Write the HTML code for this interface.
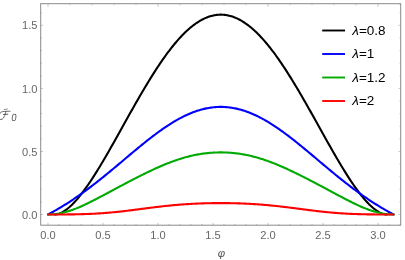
<!DOCTYPE html>
<html><head><meta charset="utf-8"><style>
html,body{margin:0;padding:0;background:#fff;}
svg{display:block;will-change:transform}
</style></head><body>
<svg width="405" height="260" viewBox="0 0 405 260">
<rect width="405" height="260" fill="#fff"/>
<rect x="40.7" y="3.7" width="360.00" height="221.50" fill="none" stroke="#8a8a8a" stroke-width="1.0"/>
<path d="M48.00,225.2 v-2.3 M59.00,225.2 v-1.3 M70.00,225.2 v-1.3 M81.00,225.2 v-1.3 M92.00,225.2 v-1.3 M103.00,225.2 v-2.3 M114.00,225.2 v-1.3 M125.00,225.2 v-1.3 M136.00,225.2 v-1.3 M147.00,225.2 v-1.3 M158.00,225.2 v-2.3 M169.00,225.2 v-1.3 M180.00,225.2 v-1.3 M191.00,225.2 v-1.3 M202.00,225.2 v-1.3 M213.00,225.2 v-2.3 M224.00,225.2 v-1.3 M235.00,225.2 v-1.3 M246.00,225.2 v-1.3 M257.00,225.2 v-1.3 M268.00,225.2 v-2.3 M279.00,225.2 v-1.3 M290.00,225.2 v-1.3 M301.00,225.2 v-1.3 M312.00,225.2 v-1.3 M323.00,225.2 v-2.3 M334.00,225.2 v-1.3 M345.00,225.2 v-1.3 M356.00,225.2 v-1.3 M367.00,225.2 v-1.3 M378.00,225.2 v-2.3 M389.00,225.2 v-1.3 M400.00,225.2 v-1.3 M40.7,214.50 h2.3 M40.7,201.89 h1.3 M40.7,189.28 h1.3 M40.7,176.67 h1.3 M40.7,164.06 h1.3 M40.7,151.45 h2.3 M40.7,138.84 h1.3 M40.7,126.23 h1.3 M40.7,113.62 h1.3 M40.7,101.01 h1.3 M40.7,88.40 h2.3 M40.7,75.79 h1.3 M40.7,63.18 h1.3 M40.7,50.57 h1.3 M40.7,37.96 h1.3 M40.7,25.35 h2.3 M40.7,12.74 h1.3" stroke="#8a8a8a" stroke-width="0.5" fill="none"/>
<path d="M48.00,3.7 v3.2 M70.00,3.7 v1.5 M92.00,3.7 v1.5 M114.00,3.7 v1.5 M136.00,3.7 v1.5 M158.00,3.7 v3.2 M180.00,3.7 v1.5 M202.00,3.7 v1.5 M224.00,3.7 v1.5 M246.00,3.7 v1.5 M268.00,3.7 v3.2 M290.00,3.7 v1.5 M312.00,3.7 v1.5 M334.00,3.7 v1.5 M356.00,3.7 v1.5 M378.00,3.7 v3.2 M400.00,3.7 v1.5 M400.7,214.50 h-2.3 M400.7,201.89 h-1.3 M400.7,189.28 h-1.3 M400.7,176.67 h-1.3 M400.7,164.06 h-1.3 M400.7,151.45 h-2.3 M400.7,138.84 h-1.3 M400.7,126.23 h-1.3 M400.7,113.62 h-1.3 M400.7,101.01 h-1.3 M400.7,88.40 h-2.3 M400.7,75.79 h-1.3 M400.7,63.18 h-1.3 M400.7,50.57 h-1.3 M400.7,37.96 h-1.3 M400.7,25.35 h-2.3 M400.7,12.74 h-1.3" stroke="#8a8a8a" stroke-width="0.45" fill="none"/>
<path d="M54.82,214.50 L55.93,214.49 L57.04,214.33 L58.15,214.05 L59.26,213.68 L60.37,213.23 L61.48,212.71 L62.59,212.11 L63.70,211.45 L64.81,210.73 L65.92,209.95 L67.03,209.11 L68.14,208.21 L69.25,207.27 L70.36,206.27 L71.47,205.23 L72.58,204.14 L73.69,203.00 L74.80,201.82 L75.91,200.60 L77.02,199.33 L78.13,198.03 L79.24,196.69 L80.35,195.32 L81.46,193.91 L82.57,192.46 L83.68,190.98 L84.79,189.47 L85.90,187.93 L87.01,186.36 L88.12,184.77 L89.23,183.15 L90.34,181.50 L91.45,179.82 L92.57,178.12 L93.68,176.40 L94.79,174.66 L95.90,172.90 L97.01,171.12 L98.12,169.32 L99.23,167.50 L100.34,165.67 L101.45,163.82 L102.56,161.95 L103.67,160.07 L104.78,158.18 L105.89,156.27 L107.00,154.36 L108.11,152.43 L109.22,150.49 L110.33,148.55 L111.44,146.59 L112.55,144.63 L113.66,142.66 L114.77,140.69 L115.88,138.71 L116.99,136.73 L118.10,134.74 L119.21,132.75 L120.32,130.76 L121.43,128.77 L122.54,126.78 L123.65,124.78 L124.76,122.79 L125.87,120.80 L126.98,118.81 L128.09,116.82 L129.20,114.84 L130.31,112.86 L131.42,110.89 L132.53,108.92 L133.64,106.96 L134.75,105.00 L135.86,103.05 L136.97,101.11 L138.08,99.18 L139.19,97.25 L140.30,95.34 L141.41,93.43 L142.52,91.54 L143.63,89.66 L144.74,87.79 L145.85,85.93 L146.96,84.09 L148.07,82.26 L149.18,80.44 L150.29,78.64 L151.40,76.85 L152.51,75.08 L153.62,73.33 L154.73,71.59 L155.84,69.87 L156.95,68.17 L158.06,66.48 L159.17,64.82 L160.28,63.17 L161.39,61.55 L162.50,59.94 L163.61,58.36 L164.72,56.79 L165.84,55.25 L166.95,53.74 L168.06,52.24 L169.17,50.77 L170.28,49.32 L171.39,47.90 L172.50,46.50 L173.61,45.12 L174.72,43.77 L175.83,42.45 L176.94,41.15 L178.05,39.88 L179.16,38.64 L180.27,37.43 L181.38,36.24 L182.49,35.08 L183.60,33.95 L184.71,32.85 L185.82,31.78 L186.93,30.74 L188.04,29.72 L189.15,28.74 L190.26,27.79 L191.37,26.87 L192.48,25.98 L193.59,25.13 L194.70,24.30 L195.81,23.51 L196.92,22.75 L198.03,22.03 L199.14,21.33 L200.25,20.67 L201.36,20.04 L202.47,19.45 L203.58,18.89 L204.69,18.36 L205.80,17.87 L206.91,17.42 L208.02,16.99 L209.13,16.61 L210.24,16.25 L211.35,15.93 L212.46,15.65 L213.57,15.40 L214.68,15.19 L215.79,15.01 L216.90,14.87 L218.01,14.77 L219.12,14.69 L220.23,14.66 L221.34,14.66 L222.45,14.69 L223.56,14.77 L224.67,14.87 L225.78,15.01 L226.89,15.19 L228.00,15.40 L229.11,15.65 L230.22,15.93 L231.33,16.25 L232.44,16.61 L233.55,16.99 L234.66,17.42 L235.77,17.87 L236.88,18.36 L237.99,18.89 L239.11,19.45 L240.22,20.04 L241.33,20.67 L242.44,21.33 L243.55,22.03 L244.66,22.75 L245.77,23.51 L246.88,24.30 L247.99,25.13 L249.10,25.98 L250.21,26.87 L251.32,27.79 L252.43,28.74 L253.54,29.72 L254.65,30.74 L255.76,31.78 L256.87,32.85 L257.98,33.95 L259.09,35.08 L260.20,36.24 L261.31,37.43 L262.42,38.64 L263.53,39.88 L264.64,41.15 L265.75,42.45 L266.86,43.77 L267.97,45.12 L269.08,46.50 L270.19,47.90 L271.30,49.32 L272.41,50.77 L273.52,52.24 L274.63,53.74 L275.74,55.25 L276.85,56.79 L277.96,58.36 L279.07,59.94 L280.18,61.55 L281.29,63.17 L282.40,64.82 L283.51,66.48 L284.62,68.17 L285.73,69.87 L286.84,71.59 L287.95,73.33 L289.06,75.08 L290.17,76.85 L291.28,78.64 L292.39,80.44 L293.50,82.26 L294.61,84.09 L295.72,85.93 L296.83,87.79 L297.94,89.66 L299.05,91.54 L300.16,93.43 L301.27,95.34 L302.38,97.25 L303.49,99.18 L304.60,101.11 L305.71,103.05 L306.82,105.00 L307.93,106.96 L309.04,108.92 L310.15,110.89 L311.26,112.86 L312.38,114.84 L313.49,116.82 L314.60,118.81 L315.71,120.80 L316.82,122.79 L317.93,124.78 L319.04,126.78 L320.15,128.77 L321.26,130.76 L322.37,132.75 L323.48,134.74 L324.59,136.73 L325.70,138.71 L326.81,140.69 L327.92,142.66 L329.03,144.63 L330.14,146.59 L331.25,148.55 L332.36,150.49 L333.47,152.43 L334.58,154.36 L335.69,156.27 L336.80,158.18 L337.91,160.07 L339.02,161.95 L340.13,163.82 L341.24,165.67 L342.35,167.50 L343.46,169.32 L344.57,171.12 L345.68,172.90 L346.79,174.66 L347.90,176.40 L349.01,178.12 L350.12,179.82 L351.23,181.50 L352.34,183.15 L353.45,184.77 L354.56,186.36 L355.67,187.93 L356.78,189.47 L357.89,190.98 L359.00,192.46 L360.11,193.91 L361.22,195.32 L362.33,196.69 L363.44,198.03 L364.55,199.33 L365.66,200.60 L366.77,201.82 L367.88,203.00 L368.99,204.14 L370.10,205.23 L371.21,206.27 L372.32,207.27 L373.43,208.21 L374.54,209.11 L375.65,209.95 L376.76,210.73 L377.87,211.45 L378.98,212.11 L380.09,212.71 L381.20,213.23 L382.31,213.68 L383.42,214.05 L384.53,214.33 L385.65,214.49 L386.76,214.50" fill="none" stroke="#000000" stroke-width="2.1" stroke-linecap="round" stroke-linejoin="round"/>
<path d="M48.00,214.50 L49.16,213.89 L50.31,213.27 L51.47,212.64 L52.62,212.00 L53.78,211.36 L54.93,210.71 L56.09,210.05 L57.25,209.38 L58.40,208.71 L59.56,208.03 L60.71,207.34 L61.87,206.64 L63.03,205.94 L64.18,205.23 L65.34,204.51 L66.49,203.78 L67.65,203.04 L68.80,202.30 L69.96,201.55 L71.12,200.79 L72.27,200.03 L73.43,199.25 L74.58,198.47 L75.74,197.69 L76.89,196.89 L78.05,196.09 L79.21,195.28 L80.36,194.46 L81.52,193.64 L82.67,192.81 L83.83,191.97 L84.98,191.13 L86.14,190.28 L87.30,189.42 L88.45,188.56 L89.61,187.69 L90.76,186.81 L91.92,185.93 L93.08,185.04 L94.23,184.15 L95.39,183.25 L96.54,182.35 L97.70,181.44 L98.85,180.52 L100.01,179.60 L101.17,178.68 L102.32,177.75 L103.48,176.82 L104.63,175.88 L105.79,174.94 L106.94,173.99 L108.10,173.04 L109.26,172.09 L110.41,171.14 L111.57,170.18 L112.72,169.22 L113.88,168.25 L115.03,167.29 L116.19,166.32 L117.35,165.35 L118.50,164.38 L119.66,163.41 L120.81,162.44 L121.97,161.46 L123.13,160.49 L124.28,159.51 L125.44,158.54 L126.59,157.57 L127.75,156.59 L128.90,155.62 L130.06,154.65 L131.22,153.68 L132.37,152.71 L133.53,151.75 L134.68,150.79 L135.84,149.83 L136.99,148.87 L138.15,147.91 L139.31,146.96 L140.46,146.02 L141.62,145.08 L142.77,144.14 L143.93,143.21 L145.08,142.28 L146.24,141.36 L147.40,140.44 L148.55,139.53 L149.71,138.63 L150.86,137.73 L152.02,136.84 L153.18,135.96 L154.33,135.09 L155.49,134.22 L156.64,133.36 L157.80,132.51 L158.95,131.67 L160.11,130.84 L161.27,130.02 L162.42,129.21 L163.58,128.41 L164.73,127.62 L165.89,126.84 L167.04,126.07 L168.20,125.31 L169.36,124.57 L170.51,123.83 L171.67,123.11 L172.82,122.40 L173.98,121.71 L175.13,121.02 L176.29,120.35 L177.45,119.70 L178.60,119.05 L179.76,118.43 L180.91,117.81 L182.07,117.21 L183.23,116.63 L184.38,116.06 L185.54,115.51 L186.69,114.97 L187.85,114.45 L189.00,113.94 L190.16,113.45 L191.32,112.97 L192.47,112.52 L193.63,112.08 L194.78,111.65 L195.94,111.25 L197.09,110.86 L198.25,110.49 L199.41,110.13 L200.56,109.79 L201.72,109.48 L202.87,109.18 L204.03,108.89 L205.18,108.63 L206.34,108.38 L207.50,108.16 L208.65,107.95 L209.81,107.76 L210.96,107.59 L212.12,107.44 L213.28,107.30 L214.43,107.19 L215.59,107.09 L216.74,107.02 L217.90,106.96 L219.05,106.92 L220.21,106.90 L221.37,106.90 L222.52,106.92 L223.68,106.96 L224.83,107.02 L225.99,107.09 L227.14,107.19 L228.30,107.30 L229.46,107.44 L230.61,107.59 L231.77,107.76 L232.92,107.95 L234.08,108.16 L235.23,108.38 L236.39,108.63 L237.55,108.89 L238.70,109.18 L239.86,109.48 L241.01,109.79 L242.17,110.13 L243.33,110.49 L244.48,110.86 L245.64,111.25 L246.79,111.65 L247.95,112.08 L249.10,112.52 L250.26,112.97 L251.42,113.45 L252.57,113.94 L253.73,114.45 L254.88,114.97 L256.04,115.51 L257.19,116.06 L258.35,116.63 L259.51,117.21 L260.66,117.81 L261.82,118.43 L262.97,119.05 L264.13,119.70 L265.28,120.35 L266.44,121.02 L267.60,121.71 L268.75,122.40 L269.91,123.11 L271.06,123.83 L272.22,124.57 L273.38,125.31 L274.53,126.07 L275.69,126.84 L276.84,127.62 L278.00,128.41 L279.15,129.21 L280.31,130.02 L281.47,130.84 L282.62,131.67 L283.78,132.51 L284.93,133.36 L286.09,134.22 L287.24,135.09 L288.40,135.96 L289.56,136.84 L290.71,137.73 L291.87,138.63 L293.02,139.53 L294.18,140.44 L295.33,141.36 L296.49,142.28 L297.65,143.21 L298.80,144.14 L299.96,145.08 L301.11,146.02 L302.27,146.96 L303.43,147.91 L304.58,148.87 L305.74,149.83 L306.89,150.79 L308.05,151.75 L309.20,152.71 L310.36,153.68 L311.52,154.65 L312.67,155.62 L313.83,156.59 L314.98,157.57 L316.14,158.54 L317.29,159.51 L318.45,160.49 L319.61,161.46 L320.76,162.44 L321.92,163.41 L323.07,164.38 L324.23,165.35 L325.38,166.32 L326.54,167.29 L327.70,168.25 L328.85,169.22 L330.01,170.18 L331.16,171.14 L332.32,172.09 L333.48,173.04 L334.63,173.99 L335.79,174.94 L336.94,175.88 L338.10,176.82 L339.25,177.75 L340.41,178.68 L341.57,179.60 L342.72,180.52 L343.88,181.44 L345.03,182.35 L346.19,183.25 L347.34,184.15 L348.50,185.04 L349.66,185.93 L350.81,186.81 L351.97,187.69 L353.12,188.56 L354.28,189.42 L355.43,190.28 L356.59,191.13 L357.75,191.97 L358.90,192.81 L360.06,193.64 L361.21,194.46 L362.37,195.28 L363.53,196.09 L364.68,196.89 L365.84,197.69 L366.99,198.47 L368.15,199.25 L369.30,200.03 L370.46,200.79 L371.62,201.55 L372.77,202.30 L373.93,203.04 L375.08,203.78 L376.24,204.51 L377.39,205.23 L378.55,205.94 L379.71,206.64 L380.86,207.34 L382.02,208.03 L383.17,208.71 L384.33,209.38 L385.48,210.05 L386.64,210.71 L387.80,211.36 L388.95,212.00 L390.11,212.64 L391.26,213.27 L392.42,213.89 L393.58,214.50" fill="none" stroke="#0000ff" stroke-width="2.1" stroke-linecap="round" stroke-linejoin="round"/>
<path d="M48.00,214.50 L49.16,214.49 L50.31,214.46 L51.47,214.40 L52.62,214.32 L53.78,214.23 L54.93,214.10 L56.09,213.96 L57.25,213.80 L58.40,213.62 L59.56,213.41 L60.71,213.19 L61.87,212.94 L63.03,212.68 L64.18,212.39 L65.34,212.09 L66.49,211.77 L67.65,211.43 L68.80,211.08 L69.96,210.71 L71.12,210.32 L72.27,209.91 L73.43,209.50 L74.58,209.06 L75.74,208.62 L76.89,208.15 L78.05,207.68 L79.21,207.20 L80.36,206.70 L81.52,206.19 L82.67,205.67 L83.83,205.14 L84.98,204.61 L86.14,204.06 L87.30,203.51 L88.45,202.95 L89.61,202.38 L90.76,201.80 L91.92,201.22 L93.08,200.64 L94.23,200.05 L95.39,199.45 L96.54,198.85 L97.70,198.25 L98.85,197.64 L100.01,197.03 L101.17,196.42 L102.32,195.81 L103.48,195.20 L104.63,194.58 L105.79,193.96 L106.94,193.34 L108.10,192.72 L109.26,192.10 L110.41,191.48 L111.57,190.86 L112.72,190.24 L113.88,189.62 L115.03,189.01 L116.19,188.39 L117.35,187.77 L118.50,187.15 L119.66,186.54 L120.81,185.92 L121.97,185.31 L123.13,184.70 L124.28,184.09 L125.44,183.48 L126.59,182.88 L127.75,182.27 L128.90,181.67 L130.06,181.07 L131.22,180.47 L132.37,179.87 L133.53,179.28 L134.68,178.68 L135.84,178.09 L136.99,177.50 L138.15,176.92 L139.31,176.34 L140.46,175.76 L141.62,175.18 L142.77,174.61 L143.93,174.04 L145.08,173.47 L146.24,172.90 L147.40,172.34 L148.55,171.79 L149.71,171.24 L150.86,170.69 L152.02,170.15 L153.18,169.61 L154.33,169.07 L155.49,168.55 L156.64,168.02 L157.80,167.50 L158.95,166.99 L160.11,166.49 L161.27,165.99 L162.42,165.49 L163.58,165.01 L164.73,164.53 L165.89,164.05 L167.04,163.59 L168.20,163.13 L169.36,162.68 L170.51,162.24 L171.67,161.80 L172.82,161.37 L173.98,160.96 L175.13,160.55 L176.29,160.15 L177.45,159.76 L178.60,159.37 L179.76,159.00 L180.91,158.64 L182.07,158.29 L183.23,157.94 L184.38,157.61 L185.54,157.28 L186.69,156.97 L187.85,156.67 L189.00,156.37 L190.16,156.09 L191.32,155.82 L192.47,155.55 L193.63,155.30 L194.78,155.06 L195.94,154.83 L197.09,154.61 L198.25,154.40 L199.41,154.20 L200.56,154.01 L201.72,153.83 L202.87,153.66 L204.03,153.51 L205.18,153.36 L206.34,153.22 L207.50,153.10 L208.65,152.98 L209.81,152.88 L210.96,152.78 L212.12,152.70 L213.28,152.63 L214.43,152.57 L215.59,152.51 L216.74,152.47 L217.90,152.44 L219.05,152.42 L220.21,152.41 L221.37,152.41 L222.52,152.42 L223.68,152.44 L224.83,152.47 L225.99,152.51 L227.14,152.57 L228.30,152.63 L229.46,152.70 L230.61,152.78 L231.77,152.88 L232.92,152.98 L234.08,153.10 L235.23,153.22 L236.39,153.36 L237.55,153.51 L238.70,153.66 L239.86,153.83 L241.01,154.01 L242.17,154.20 L243.33,154.40 L244.48,154.61 L245.64,154.83 L246.79,155.06 L247.95,155.30 L249.10,155.55 L250.26,155.82 L251.42,156.09 L252.57,156.37 L253.73,156.67 L254.88,156.97 L256.04,157.28 L257.19,157.61 L258.35,157.94 L259.51,158.29 L260.66,158.64 L261.82,159.00 L262.97,159.37 L264.13,159.76 L265.28,160.15 L266.44,160.55 L267.60,160.96 L268.75,161.37 L269.91,161.80 L271.06,162.24 L272.22,162.68 L273.38,163.13 L274.53,163.59 L275.69,164.05 L276.84,164.53 L278.00,165.01 L279.15,165.49 L280.31,165.99 L281.47,166.49 L282.62,166.99 L283.78,167.50 L284.93,168.02 L286.09,168.55 L287.24,169.07 L288.40,169.61 L289.56,170.15 L290.71,170.69 L291.87,171.24 L293.02,171.79 L294.18,172.34 L295.33,172.90 L296.49,173.47 L297.65,174.04 L298.80,174.61 L299.96,175.18 L301.11,175.76 L302.27,176.34 L303.43,176.92 L304.58,177.50 L305.74,178.09 L306.89,178.68 L308.05,179.28 L309.20,179.87 L310.36,180.47 L311.52,181.07 L312.67,181.67 L313.83,182.27 L314.98,182.88 L316.14,183.48 L317.29,184.09 L318.45,184.70 L319.61,185.31 L320.76,185.92 L321.92,186.54 L323.07,187.15 L324.23,187.77 L325.38,188.39 L326.54,189.01 L327.70,189.62 L328.85,190.24 L330.01,190.86 L331.16,191.48 L332.32,192.10 L333.48,192.72 L334.63,193.34 L335.79,193.96 L336.94,194.58 L338.10,195.20 L339.25,195.81 L340.41,196.42 L341.57,197.03 L342.72,197.64 L343.88,198.25 L345.03,198.85 L346.19,199.45 L347.34,200.05 L348.50,200.64 L349.66,201.22 L350.81,201.80 L351.97,202.38 L353.12,202.95 L354.28,203.51 L355.43,204.06 L356.59,204.61 L357.75,205.14 L358.90,205.67 L360.06,206.19 L361.21,206.70 L362.37,207.20 L363.53,207.68 L364.68,208.15 L365.84,208.62 L366.99,209.06 L368.15,209.50 L369.30,209.91 L370.46,210.32 L371.62,210.71 L372.77,211.08 L373.93,211.43 L375.08,211.77 L376.24,212.09 L377.39,212.39 L378.55,212.68 L379.71,212.94 L380.86,213.19 L382.02,213.41 L383.17,213.62 L384.33,213.80 L385.48,213.96 L386.64,214.10 L387.80,214.23 L388.95,214.32 L390.11,214.40 L391.26,214.46 L392.42,214.49 L393.58,214.50" fill="none" stroke="#00aa00" stroke-width="2.1" stroke-linecap="round" stroke-linejoin="round"/>
<path d="M48.00,214.50 L49.16,214.50 L50.31,214.50 L51.47,214.50 L52.62,214.50 L53.78,214.49 L54.93,214.49 L56.09,214.49 L57.25,214.49 L58.40,214.48 L59.56,214.48 L60.71,214.47 L61.87,214.47 L63.03,214.46 L64.18,214.45 L65.34,214.44 L66.49,214.43 L67.65,214.42 L68.80,214.41 L69.96,214.40 L71.12,214.38 L72.27,214.36 L73.43,214.35 L74.58,214.33 L75.74,214.31 L76.89,214.28 L78.05,214.26 L79.21,214.23 L80.36,214.20 L81.52,214.17 L82.67,214.14 L83.83,214.11 L84.98,214.07 L86.14,214.03 L87.30,213.99 L88.45,213.94 L89.61,213.89 L90.76,213.84 L91.92,213.79 L93.08,213.74 L94.23,213.68 L95.39,213.61 L96.54,213.55 L97.70,213.48 L98.85,213.41 L100.01,213.34 L101.17,213.26 L102.32,213.18 L103.48,213.10 L104.63,213.01 L105.79,212.92 L106.94,212.83 L108.10,212.73 L109.26,212.63 L110.41,212.53 L111.57,212.43 L112.72,212.32 L113.88,212.21 L115.03,212.09 L116.19,211.98 L117.35,211.86 L118.50,211.74 L119.66,211.61 L120.81,211.49 L121.97,211.36 L123.13,211.23 L124.28,211.09 L125.44,210.96 L126.59,210.82 L127.75,210.68 L128.90,210.54 L130.06,210.40 L131.22,210.25 L132.37,210.11 L133.53,209.96 L134.68,209.81 L135.84,209.66 L136.99,209.52 L138.15,209.37 L139.31,209.22 L140.46,209.07 L141.62,208.91 L142.77,208.76 L143.93,208.61 L145.08,208.46 L146.24,208.31 L147.40,208.16 L148.55,208.01 L149.71,207.87 L150.86,207.72 L152.02,207.57 L153.18,207.43 L154.33,207.29 L155.49,207.14 L156.64,207.00 L157.80,206.86 L158.95,206.73 L160.11,206.59 L161.27,206.46 L162.42,206.33 L163.58,206.20 L164.73,206.07 L165.89,205.95 L167.04,205.82 L168.20,205.70 L169.36,205.59 L170.51,205.47 L171.67,205.36 L172.82,205.25 L173.98,205.14 L175.13,205.04 L176.29,204.94 L177.45,204.84 L178.60,204.74 L179.76,204.65 L180.91,204.56 L182.07,204.47 L183.23,204.39 L184.38,204.31 L185.54,204.23 L186.69,204.15 L187.85,204.08 L189.00,204.01 L190.16,203.94 L191.32,203.88 L192.47,203.81 L193.63,203.75 L194.78,203.70 L195.94,203.64 L197.09,203.59 L198.25,203.55 L199.41,203.50 L200.56,203.46 L201.72,203.42 L202.87,203.38 L204.03,203.34 L205.18,203.31 L206.34,203.28 L207.50,203.25 L208.65,203.23 L209.81,203.20 L210.96,203.18 L212.12,203.16 L213.28,203.15 L214.43,203.14 L215.59,203.12 L216.74,203.11 L217.90,203.11 L219.05,203.10 L220.21,203.10 L221.37,203.10 L222.52,203.10 L223.68,203.11 L224.83,203.11 L225.99,203.12 L227.14,203.14 L228.30,203.15 L229.46,203.16 L230.61,203.18 L231.77,203.20 L232.92,203.23 L234.08,203.25 L235.23,203.28 L236.39,203.31 L237.55,203.34 L238.70,203.38 L239.86,203.42 L241.01,203.46 L242.17,203.50 L243.33,203.55 L244.48,203.59 L245.64,203.64 L246.79,203.70 L247.95,203.75 L249.10,203.81 L250.26,203.88 L251.42,203.94 L252.57,204.01 L253.73,204.08 L254.88,204.15 L256.04,204.23 L257.19,204.31 L258.35,204.39 L259.51,204.47 L260.66,204.56 L261.82,204.65 L262.97,204.74 L264.13,204.84 L265.28,204.94 L266.44,205.04 L267.60,205.14 L268.75,205.25 L269.91,205.36 L271.06,205.47 L272.22,205.59 L273.38,205.70 L274.53,205.82 L275.69,205.95 L276.84,206.07 L278.00,206.20 L279.15,206.33 L280.31,206.46 L281.47,206.59 L282.62,206.73 L283.78,206.86 L284.93,207.00 L286.09,207.14 L287.24,207.29 L288.40,207.43 L289.56,207.57 L290.71,207.72 L291.87,207.87 L293.02,208.01 L294.18,208.16 L295.33,208.31 L296.49,208.46 L297.65,208.61 L298.80,208.76 L299.96,208.91 L301.11,209.07 L302.27,209.22 L303.43,209.37 L304.58,209.52 L305.74,209.66 L306.89,209.81 L308.05,209.96 L309.20,210.11 L310.36,210.25 L311.52,210.40 L312.67,210.54 L313.83,210.68 L314.98,210.82 L316.14,210.96 L317.29,211.09 L318.45,211.23 L319.61,211.36 L320.76,211.49 L321.92,211.61 L323.07,211.74 L324.23,211.86 L325.38,211.98 L326.54,212.09 L327.70,212.21 L328.85,212.32 L330.01,212.43 L331.16,212.53 L332.32,212.63 L333.48,212.73 L334.63,212.83 L335.79,212.92 L336.94,213.01 L338.10,213.10 L339.25,213.18 L340.41,213.26 L341.57,213.34 L342.72,213.41 L343.88,213.48 L345.03,213.55 L346.19,213.61 L347.34,213.68 L348.50,213.74 L349.66,213.79 L350.81,213.84 L351.97,213.89 L353.12,213.94 L354.28,213.99 L355.43,214.03 L356.59,214.07 L357.75,214.11 L358.90,214.14 L360.06,214.17 L361.21,214.20 L362.37,214.23 L363.53,214.26 L364.68,214.28 L365.84,214.31 L366.99,214.33 L368.15,214.35 L369.30,214.36 L370.46,214.38 L371.62,214.40 L372.77,214.41 L373.93,214.42 L375.08,214.43 L376.24,214.44 L377.39,214.45 L378.55,214.46 L379.71,214.47 L380.86,214.47 L382.02,214.48 L383.17,214.48 L384.33,214.49 L385.48,214.49 L386.64,214.49 L387.80,214.49 L388.95,214.50 L390.11,214.50 L391.26,214.50 L392.42,214.50 L393.58,214.50" fill="none" stroke="#ff0000" stroke-width="2.1" stroke-linecap="round" stroke-linejoin="round"/>
<text x="48.00" y="239.3" text-anchor="middle" style="font-family:'Liberation Sans',sans-serif;font-size:11.1px;fill:#666">0.0</text>
<text x="103.00" y="239.3" text-anchor="middle" style="font-family:'Liberation Sans',sans-serif;font-size:11.1px;fill:#666">0.5</text>
<text x="158.00" y="239.3" text-anchor="middle" style="font-family:'Liberation Sans',sans-serif;font-size:11.1px;fill:#666">1.0</text>
<text x="213.00" y="239.3" text-anchor="middle" style="font-family:'Liberation Sans',sans-serif;font-size:11.1px;fill:#666">1.5</text>
<text x="268.00" y="239.3" text-anchor="middle" style="font-family:'Liberation Sans',sans-serif;font-size:11.1px;fill:#666">2.0</text>
<text x="323.00" y="239.3" text-anchor="middle" style="font-family:'Liberation Sans',sans-serif;font-size:11.1px;fill:#666">2.5</text>
<text x="378.00" y="239.3" text-anchor="middle" style="font-family:'Liberation Sans',sans-serif;font-size:11.1px;fill:#666">3.0</text>
<text x="37.4" y="218.60" text-anchor="end" style="font-family:'Liberation Sans',sans-serif;font-size:11.1px;fill:#666">0.0</text>
<text x="37.4" y="155.55" text-anchor="end" style="font-family:'Liberation Sans',sans-serif;font-size:11.1px;fill:#666">0.5</text>
<text x="37.4" y="92.50" text-anchor="end" style="font-family:'Liberation Sans',sans-serif;font-size:11.1px;fill:#666">1.0</text>
<text x="37.4" y="29.45" text-anchor="end" style="font-family:'Liberation Sans',sans-serif;font-size:11.1px;fill:#666">1.5</text>
<path d="M322.2,30.5 H345" stroke="#000000" stroke-width="1.9"/>
<text x="352.3" y="34.90" style="font-family:'Liberation Sans',sans-serif;font-size:13.5px;fill:#000"><tspan font-style="italic">λ</tspan>=0.8</text>
<path d="M322.2,54.0 H345" stroke="#0000ff" stroke-width="1.9"/>
<text x="352.3" y="58.40" style="font-family:'Liberation Sans',sans-serif;font-size:13.5px;fill:#000"><tspan font-style="italic">λ</tspan>=1</text>
<path d="M322.2,77.5 H345" stroke="#00aa00" stroke-width="1.9"/>
<text x="352.3" y="81.90" style="font-family:'Liberation Sans',sans-serif;font-size:13.5px;fill:#000"><tspan font-style="italic">λ</tspan>=1.2</text>
<path d="M322.2,101.0 H345" stroke="#ff0000" stroke-width="1.9"/>
<text x="352.3" y="105.40" style="font-family:'Liberation Sans',sans-serif;font-size:13.5px;fill:#000"><tspan font-style="italic">λ</tspan>=2</text>
<text transform="translate(221.5,256.9) scale(1.08,1.08)" x="0" y="0" text-anchor="middle" style="font-family:'Liberation Sans',sans-serif;font-size:10.5px;font-style:italic;fill:#555">φ</text>
<g fill="none" stroke="#505050" stroke-width="0.85" stroke-linecap="round"><path d="M-0.2,113.8 C0.2,112.6 1.0,111.9 2.6,111.6 C4.5,111.3 7,111.4 10.1,111.2"/><path d="M5.9,111.5 C5.4,113.5 4.9,115.2 4.2,116.6 C3.6,117.9 3.0,118.8 2.2,119.2 C1.4,119.6 0.6,119.5 -0.3,119.3"/><path d="M3.5,114.5 L7.8,114.2" stroke-width="0.95"/><path d="M4.2,109.5 C5,109.2 6,109.5 7.3,109.1" stroke-width="0.7"/></g>
<text transform="translate(10.9,121.4) skewX(-7) scale(0.9,1)" x="0" y="0" style="font-family:'Liberation Sans',sans-serif;font-size:10.5px;fill:#555">0</text>
</svg>
</body></html>
